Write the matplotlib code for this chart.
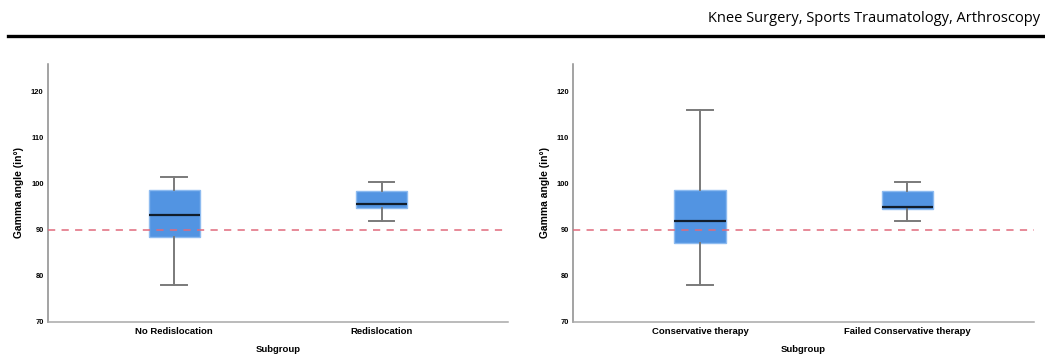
import matplotlib
matplotlib.use("Agg")
import matplotlib.pyplot as plt

# five-number summaries (whisker low, Q1, median, Q3, whisker high)
left_groups = ["No Redislocation", "Redislocation"]
left_wlo = [77.9, 91.9]
left_q1 = [88.3, 94.8]
left_med = [93.1, 95.5]
left_q3 = [98.7, 98.4]
left_whi = [101.4, 100.3]

right_groups = ["Conservative therapy", "Failed Conservative therapy"]
right_wlo = [77.9, 91.9]
right_q1 = [87.0, 94.5]
right_med = [91.9, 95.0]
right_q3 = [98.65, 98.5]
right_whi = [116.0, 100.3]

ref_line = 90
y_ticks = [70, 80, 90, 100, 110, 120]
header = "Knee Surgery, Sports Traumatology, Arthroscopy"

box_fill = "#5294E2"
box_edge = "#8DBBF0"
lab_font = "Liberation Sans"


def make_stats(groups, wlo, q1, med, q3, whi):
    stats = []
    for i in range(len(groups)):
        stats.append(dict(label=groups[i], whislo=wlo[i], q1=q1[i], med=med[i],
                          q3=q3[i], whishi=whi[i], fliers=[]))
    return stats


def draw_panel(ax, stats):
    ax.bxp(stats, positions=[1, 2], widths=0.247, patch_artist=True,
           showfliers=False,
           boxprops=dict(facecolor=box_fill, edgecolor=box_edge, linewidth=1),
           medianprops=dict(color="#111d2b", linewidth=1.6),
           whiskerprops=dict(color="#7a7a7a", linewidth=1.4),
           capprops=dict(color="#7a7a7a", linewidth=1.4),
           capwidths=0.124)
    ax.axhline(ref_line, color="#e06a7c", linestyle=(0, (4, 3.5)), linewidth=1.3,
               alpha=0.85, zorder=5)
    ax.set_xlim(0.39, 2.61)
    ax.set_ylim(70, 126)
    ax.set_yticks(y_ticks)
    ax.set_yticklabels([str(t) for t in y_ticks], fontsize=5.4, fontweight="bold",
                       family=lab_font)
    ax.tick_params(axis="both", length=0)
    ax.tick_params(axis="y", pad=3)
    ax.tick_params(axis="x", pad=3.5)
    for lab in ax.get_xticklabels():
        lab.set_fontsize(6.8)
        lab.set_fontweight("bold")
        lab.set_family(lab_font)
    ax.set_ylabel("Gamma angle (in°)", fontsize=7.4, fontweight="bold", labelpad=5,
                  family=lab_font)
    ax.set_xlabel("Subgroup", fontsize=6.8, fontweight="bold", labelpad=7,
                  family=lab_font)
    ax.spines["top"].set_visible(False)
    ax.spines["right"].set_visible(False)
    ax.spines["left"].set_color("#8a8a8a")
    ax.spines["bottom"].set_color("#a8a8a8")
    ax.spines["left"].set_linewidth(1.1)
    ax.spines["bottom"].set_linewidth(1.1)


fig = plt.figure(figsize=(10.45, 3.56), dpi=100)

ax1 = fig.add_axes([47.7 / 1045, 1 - 321.7 / 356, 460.3 / 1045, 257.7 / 356])
ax2 = fig.add_axes([573.3 / 1045, 1 - 321.7 / 356, 460.7 / 1045, 257.7 / 356])

draw_panel(ax1, make_stats(left_groups, left_wlo, left_q1, left_med, left_q3, left_whi))
draw_panel(ax2, make_stats(right_groups, right_wlo, right_q1, right_med, right_q3, right_whi))

# journal header and rule
fig.text(1040 / 1045, 1 - 18 / 356, header, ha="right", va="center",
         fontsize=10.5, family="Open Sans")
fig.add_artist(plt.Line2D([8 / 1045, 1], [1 - 36 / 356, 1 - 36 / 356],
                          color="black", linewidth=2.4, transform=fig.transFigure))

plt.savefig("out.png", dpi=100)
